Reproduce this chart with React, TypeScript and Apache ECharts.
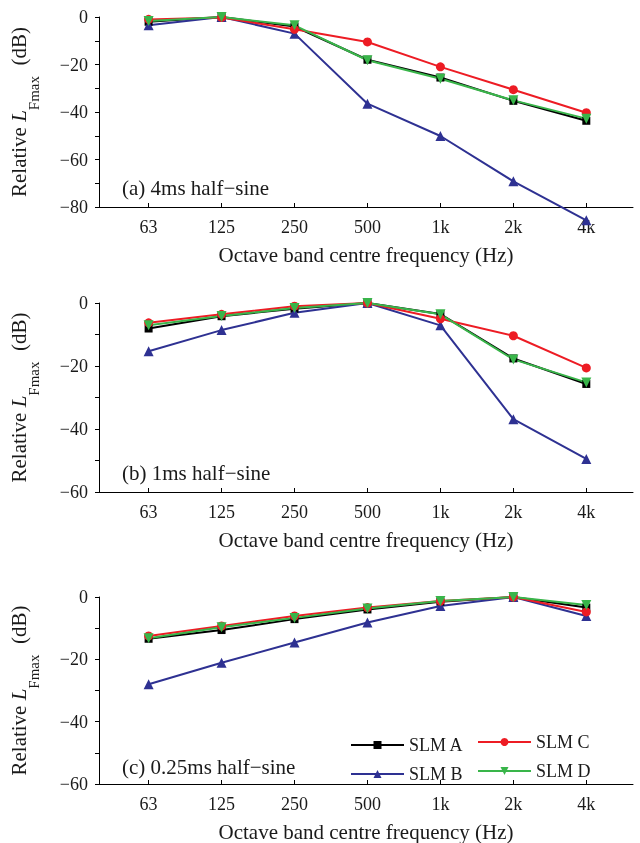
import React, { useEffect, useRef } from "react";
import * as echarts from "echarts";

const categories = ["63", "125", "250", "500", "1k", "2k", "4k"];
const seriesNames = ["SLM A", "SLM B", "SLM C", "SLM D"];

// Panel (a) 4ms half-sine
const slmA_a = [-2, 0, -4, -18, -25.5, -35.3, -43.7];
const slmB_a = [-3.5, 0, -7, -36.5, -50.1, -69.2, -85.6];
const slmC_a = [-1, -0.2, -5.2, -10.5, -21, -30.6, -40.3];
const slmD_a = [-1.7, 0, -3.5, -18.2, -26, -35.1, -42.8];

// Panel (b) 1ms half-sine
const slmA_b = [-8.1, -4.2, -1.8, 0, -3.5, -17.6, -25.7];
const slmB_b = [-15.3, -8.6, -3.1, 0, -7.1, -36.9, -49.5];
const slmC_b = [-6.3, -3.6, -1, 0, -5, -10.4, -20.6];
const slmD_b = [-7.1, -4.1, -1.6, 0, -3.6, -17.9, -25.2];

// Panel (c) 0.25ms half-sine
const slmA_c = [-13.4, -10.6, -7.1, -4, -1.5, 0, -3.4];
const slmB_c = [-28, -21.1, -14.6, -8.2, -2.9, 0, -6.1];
const slmC_c = [-12.5, -9.3, -6.1, -3.4, -1.3, 0, -4.8];
const slmD_c = [-13.2, -9.7, -6.7, -3.7, -1.3, 0, -2.6];

const yMins = [-80, -60, -60];
const panelLabels = ["(a) 4ms half\u2212sine", "(b) 1ms half\u2212sine", "(c) 0.25ms half\u2212sine"];
const xTitle = "Octave band centre frequency (Hz)";

const FONT = "'Liberation Serif', 'Times New Roman', serif";
const TXT = "#1a1a1a";
const colors = ["#000000", "#2e3192", "#ed1c24", "#39b54a"];
const symbols = ["rect", "triangle", "circle", "triangle"];
const symbolSizes = [8, 10, 9, 10];
const symbolRotates = [0, 0, 0, 180];

const panels = [
  [slmA_a, slmB_a, slmC_a, slmD_a],
  [slmA_b, slmB_b, slmC_b, slmD_b],
  [slmA_c, slmB_c, slmC_c, slmD_c],
];

const gridTops = [17, 303, 597];
const gridHeights = [190, 189, 189];
const annotY = [188, 473, 767];

export default function App() {
  const ref = useRef<HTMLDivElement>(null);
  useEffect(() => {
    if (!ref.current) return;
    const chart = echarts.init(ref.current, null, { renderer: "svg" });
    const idx = categories.map((_, i) => i);

    const grid = gridTops.map((t, k) => ({
      left: 98,
      right: 7,
      top: t,
      height: gridHeights[k],
    }));

    const xAxis = gridTops.map((_, k) => ({
      type: "value",
      gridIndex: k,
      min: -0.68,
      max: 6.64,
      axisLine: { show: true, onZero: false, lineStyle: { color: "#000", width: 1 } },
      axisTick: { show: true, inside: true, length: 4, customValues: idx, lineStyle: { color: "#000" } },
      axisLabel: {
        customValues: idx,
        formatter: (v: number) => categories[Math.round(v)] ?? "",
        fontSize: 18,
        fontFamily: FONT,
        color: TXT,
        margin: 11,
      },
      splitLine: { show: false },
      name: xTitle,
      nameLocation: "middle",
      nameGap: 37,
      nameTextStyle: { fontSize: 21, fontFamily: FONT, color: TXT },
    }));

    const yAxis = gridTops.map((_, k) => ({
      type: "value",
      gridIndex: k,
      min: yMins[k],
      max: 0,
      interval: 10,
      axisLine: { show: true, onZero: false, lineStyle: { color: "#000", width: 1 } },
      axisTick: { show: true, inside: false, length: 4, lineStyle: { color: "#000" } },
      axisLabel: {
        formatter: (v: number) =>
          v === 0 ? "0" : Math.abs(v) % 20 === 0 ? "\u2212" + Math.abs(v) : "",
        fontSize: 18,
        fontFamily: FONT,
        color: TXT,
        margin: 11,
      },
      splitLine: { show: false },
      name: "{n|Relative }{i|L}{s|Fmax}{n|  (dB)}",
      nameLocation: "middle",
      nameGap: 58,
      nameTextStyle: {
        color: TXT,
        rich: {
          n: { fontSize: 21, fontFamily: FONT, color: TXT, lineHeight: 24, verticalAlign: "top" },
          i: { fontSize: 21, fontFamily: FONT, fontStyle: "italic", color: TXT, lineHeight: 24, verticalAlign: "top" },
          s: { fontSize: 15, fontFamily: FONT, color: TXT, lineHeight: 33, verticalAlign: "bottom" },
        },
      },
    }));

    const series: any[] = [];
    panels.forEach((panel, k) => {
      panel.forEach((vals, s) => {
        series.push({
          type: "line",
          name: seriesNames[s],
          xAxisIndex: k,
          yAxisIndex: k,
          data: vals.map((v, i) => [i, v]),
          clip: false,
          symbol: symbols[s],
          symbolSize: symbolSizes[s],
          symbolRotate: symbolRotates[s],
          showSymbol: true,
          itemStyle: { color: colors[s] },
          lineStyle: { color: colors[s], width: 2 },
          emphasis: { disabled: true },
        });
      });
    });

    const legendText = { fontSize: 18, fontFamily: FONT, color: TXT };

    chart.setOption({
      animation: false,
      grid,
      xAxis,
      yAxis,
      series,
      legend: [
        {
          data: ["SLM A", "SLM B"],
          orient: "vertical",
          left: 350,
          top: 736,
          padding: 0,
          itemWidth: 53,
          itemHeight: 10,
          itemGap: 11,
          textStyle: legendText,
        },
        {
          data: ["SLM C", "SLM D"],
          orient: "vertical",
          left: 477,
          top: 733,
          padding: 0,
          itemWidth: 53,
          itemHeight: 10,
          itemGap: 11,
          textStyle: legendText,
        },
      ],
      graphic: panelLabels.map((t, k) => ({
        type: "text",
        x: 122,
        y: annotY[k],
        style: {
          text: t,
          fontSize: 21,
          fontFamily: FONT,
          fill: TXT,
          verticalAlign: "middle",
        },
      })),
    });
    return () => chart.dispose();
  }, []);
  return (
    <div
      ref={ref}
      style={{ position: "fixed", left: 0, top: 0, width: 640, height: 843 }}
    />
  );
}
